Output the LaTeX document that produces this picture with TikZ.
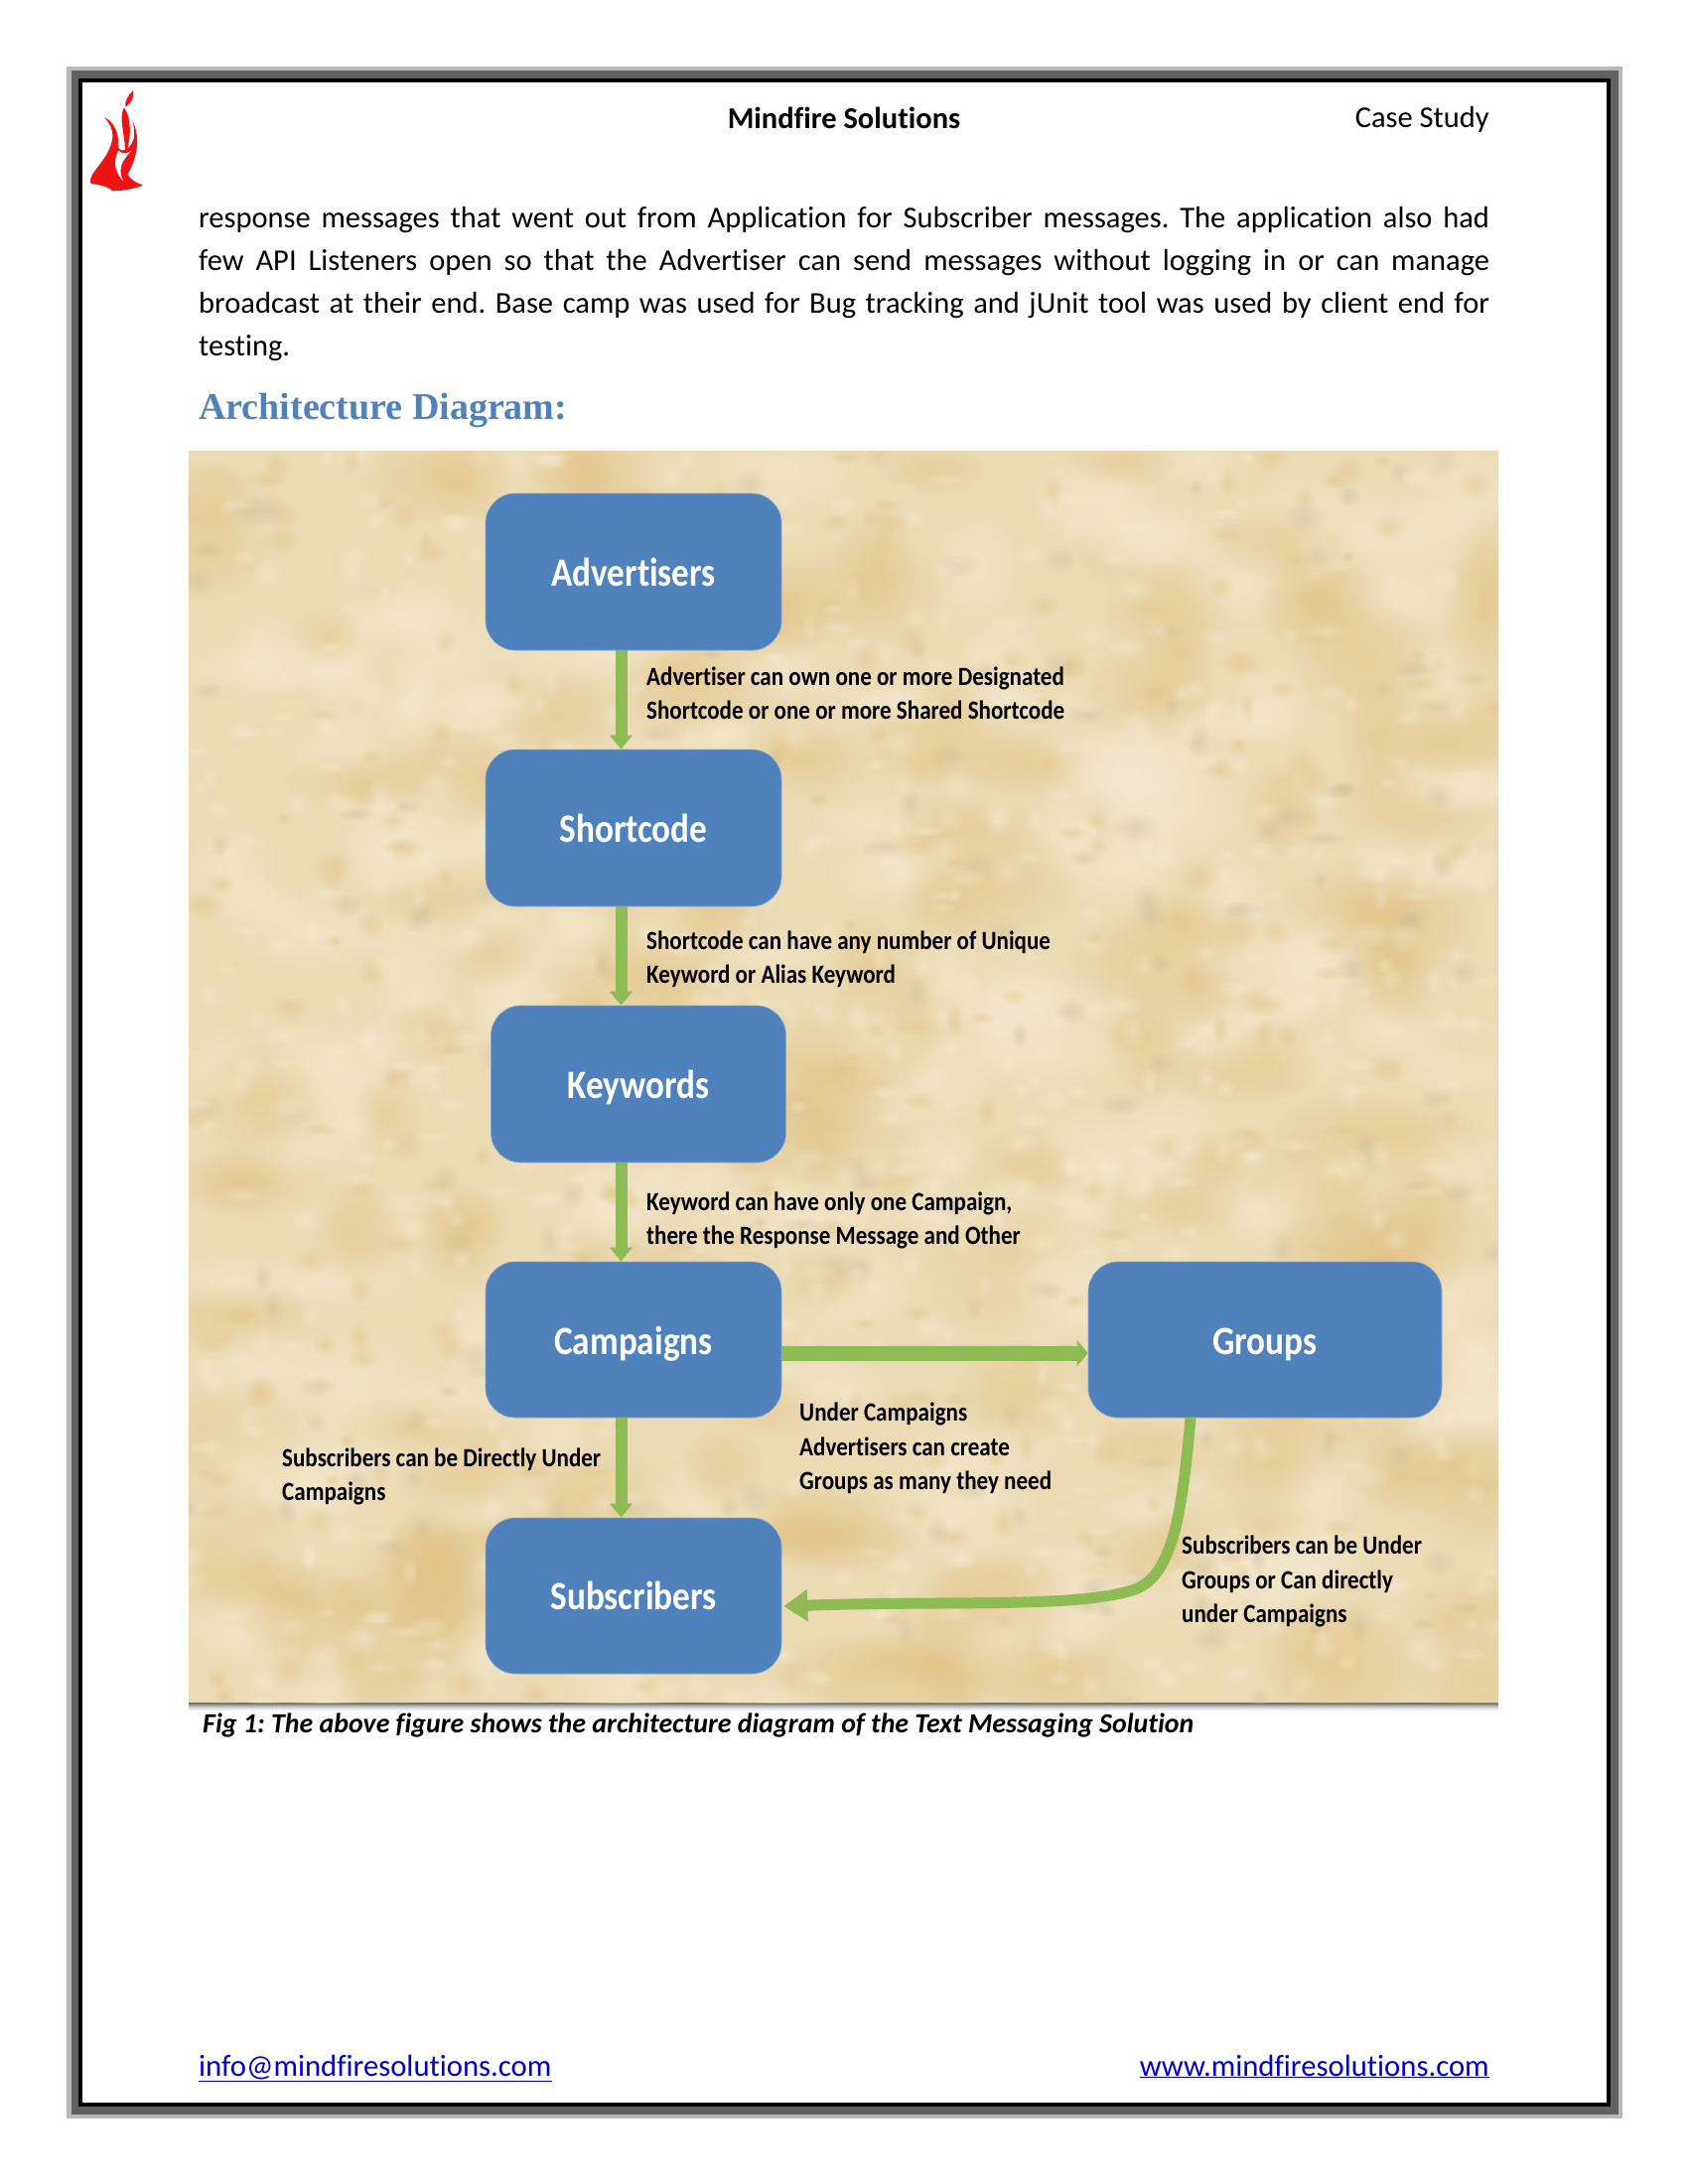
\documentclass[tikz,border=0pt]{standalone}
\usepackage{fontspec}
\setmainfont{Carlito}[Ligatures=NoCommon]
\newfontfamily\headfont{Liberation Serif}
\newfontfamily\lblfont{Carlito}[FakeStretch=0.87,Ligatures=NoCommon]
\usetikzlibrary{arrows.meta,fadings,calc}
\definecolor{boxblue}{HTML}{4F81BD}
\definecolor{flowgreen}{HTML}{8FBB55}
\definecolor{paper}{HTML}{EBDAB4}
\definecolor{paperlight}{HTML}{F5EBD2}
\definecolor{paperdark}{HTML}{E3C284}
\definecolor{papergrey}{HTML}{CDBD9C}
\definecolor{linkblue}{HTML}{0000CC}
\definecolor{flamered}{HTML}{EC1414}
\tikzfading[name=softblob, inner color=transparent!45, outer color=transparent!100]
\newcommand{\lowered}[2]{\raisebox{-#1pt}[0pt][0pt]{#2}}
\tikzset{
  x=1pt,y=-1pt,
  archbox/.style={fill=boxblue,draw=boxblue!70!white,line width=0.6pt,rounded corners=30pt,inner sep=0pt,
    text=white,font=\lblfont\bfseries\fontsize{40.5}{46}\selectfont},
  flow/.style={draw=flowgreen,line width=12pt,-{Triangle[width=22pt,length=14pt]}},
  flowwide/.style={draw=flowgreen,line width=15pt,-{Triangle[width=26pt,length=11pt]}},
  flowcurve/.style={draw=flowgreen,line width=11pt,line join=round,-{Triangle[width=31pt,length=24pt]}},
  lbl/.style={anchor=west,align=left,inner sep=0pt,text=black,font=\lblfont\bfseries\fontsize{26.5}{34.5}\selectfont},
  body/.style={anchor=west,inner sep=0pt,text=black,font=\fontsize{30.5}{43}\selectfont},
  linktext/.style={inner sep=0pt,text=linkblue,font=\fontsize{30.7}{43}\selectfont},
  flame/.style={fill=flamered,draw=none},
}
\begin{document}
\begin{tikzpicture}
\frenchspacing
\useasboundingbox (0,0) rectangle (1700,2200);
\fill[white] (0,0) rectangle (1700,2200);
% page frame
\fill[black!28] (67,67) rectangle (1634,2134);
\fill[black!62] (72,71) rectangle (1630,2130);
\fill[black] (79,79) rectangle (1622,2122);
\fill[white] (83,83) rectangle (1618,2118);
% flame logo
\begin{scope}[shift={(80,85)},x=0.3333pt,y=-0.3333pt]
\fill[flame] (75,100) .. controls (105,112) and (122,150) .. (116,190)
  .. controls (122,205) and (150,205) .. (164,165)
  .. controls (168,145) and (165,125) .. (160,110)
  .. controls (182,150) and (180,215) .. (145,272)
  .. controls (155,290) and (175,298) .. (192,305)
  .. controls (165,316) and (130,322) .. (100,322)
  .. controls (90,312) and (75,305) .. (35,300)
  .. controls (30,290) and (35,280) .. (42,268)
  .. controls (65,235) and (95,205) .. (100,160)
  .. controls (102,135) and (90,115) .. (75,100) -- cycle;
\fill[white] (118,200) .. controls (100,235) and (108,265) .. (132,292)
  .. controls (118,262) and (122,235) .. (158,200)
  .. controls (145,210) and (130,212) .. (118,200) -- cycle;
\fill[flame] (135,70) .. controls (118,95) and (136,150) .. (140,210)
  .. controls (155,170) and (160,105) .. (135,70) -- cycle;
\fill[flame] (163,18) .. controls (148,30) and (136,52) .. (139,68)
  .. controls (155,60) and (167,38) .. (163,18) -- cycle;
\end{scope}
% header
\node[anchor=center,inner sep=0pt,font=\bfseries\fontsize{30.5}{34}\selectfont] (hdr) at (850,118.5) {Mindfire Solutions};
\node[anchor=east,inner sep=0pt,font=\fontsize{30.5}{34}\selectfont] (cs) at (1500,120.5) {Case Study};
% paragraph
\node[body] (p1) at (200,222) {\makebox[1300pt][s]{response messages that went out from Application for Subscriber messages. The application also had}};
\node[body] (p2) at (200,265) {\makebox[1300pt][s]{few API Listeners open so that the Advertiser can send messages without logging in or can manage}};
\node[body] (p3) at (200,308) {\makebox[1300pt][s]{broadcast at their end. Base camp was used for Bug tracking and jUnit tool was used by client end for}};
\node[body] (p4) at (200,351) {testing.};
\node[anchor=west,inner sep=0pt,text=boxblue,font=\headfont\bfseries\fontsize{38}{42}\selectfont] (hd) at (200,414) {Architecture Diagram:};
% panel shadow, bottom edge only
\foreach \i/\o in {7/15,5/25,3/40,1/60}{\fill[black,opacity=\o/100*0.5] (190,1700) rectangle (1509,1716+\i);}
\begin{scope}
\clip (189.5,454) rectangle (1509,1715);
\fill[paper] (189.5,454) rectangle (1509,1715);
\pgfmathsetseed{4217}
\foreach \k in {1,...,340}{
  \pgfmathsetmacro{\px}{189+rnd*1320}
  \pgfmathsetmacro{\py}{454+rnd*1261}
  \pgfmathsetmacro{\ra}{35+rnd*60}
  \pgfmathsetmacro{\rb}{25+rnd*45}
  \pgfmathtruncatemacro{\c}{rnd*100}
  \ifnum\c<50\def\col{paperlight}\else\def\col{paperdark}\fi
  \fill[\col,path fading=softblob] (\px,\py) ellipse [x radius=\ra,y radius=\rb];
}
\foreach \k in {1,...,1100}{
  \pgfmathsetmacro{\px}{189+rnd*1320}
  \pgfmathsetmacro{\py}{454+rnd*1261}
  \pgfmathsetmacro{\ra}{8+rnd*16}
  \pgfmathsetmacro{\rb}{6+rnd*12}
  \pgfmathtruncatemacro{\c}{rnd*100}
  \ifnum\c<60\def\col{paperlight}\else\ifnum\c<85\def\col{paperdark}\else\def\col{papergrey}\fi\fi
  \fill[\col,path fading=softblob,opacity=0.8] (\px,\py) ellipse [x radius=\ra,y radius=\rb];
}
\end{scope}
% boxes
\node[archbox,minimum width=298pt,minimum height=158pt] (adv) at (638,576) {Advertisers};
\node[archbox,minimum width=298pt,minimum height=158pt] (sho) at (638,834) {Shortcode};
\node[archbox,minimum width=297pt,minimum height=158pt] (key) at (643,1092) {\lowered{14}{Keywords}};
\node[archbox,minimum width=298pt,minimum height=157pt] (cam) at (638,1349.5) {\lowered{15}{Campaigns}};
\node[archbox,minimum width=298pt,minimum height=157pt] (sub) at (638,1607.5) {Subscribers};
\node[archbox,minimum width=356pt,minimum height=157pt] (grp) at (1274,1349.5) {\lowered{15}{Groups}};
% connector guides
\coordinate (ax) at (625.5,0);
\coordinate (hy) at (0,1363);
\coordinate (cx) at (1199,0);
\coordinate (cy) at (0,1618);
% connectors
\draw[flow] (adv.south -| ax) -- (sho.north -| ax);
\draw[flow] (sho.south -| ax) -- (key.north -| ax);
\draw[flow] (key.south -| ax) -- (cam.north -| ax);
\draw[flow] (cam.south -| ax) -- (sub.north -| ax);
\draw[flowwide] (cam.east |- hy) -- (grp.west |- hy);
\draw[flowcurve] (grp.south -| cx) .. controls (1190,1530) and (1180,1590) .. (1140,1602) .. controls (1080,1620) and (960,1612) .. ($(sub.east |- cy)+(2,0)$);
% labels
\node[lbl] (l1) at (651,698.5) {Advertiser can own one or more Designated\\Shortcode or one or more Shared Shortcode};
\node[lbl] (l2) at (651,966.5) {Shortcode can have any number of Unique\\Keyword or Alias Keyword};
\node[lbl] (l3) at (651,1229.5) {Keyword can have only one Campaign,\\there the Response Message and Other};
\node[lbl] (l4) at (805,1459) {Under Campaigns\\Advertisers can create\\Groups as many they need};
\node[lbl] (l5) at (284,1487.5) {Subscribers can be Directly Under\\Campaigns};
\node[lbl] (l6) at (1190,1593) {Subscribers can be Under\\Groups or Can directly\\under Campaigns};
% caption
\node[anchor=west,inner sep=0pt,font=\bfseries\itshape\fontsize{27.9}{32}\selectfont] (cap) at (204,1738) {Fig 1: The above figure shows the architecture diagram of the Text Messaging Solution};
% footer
\node[linktext,anchor=base west] (f1) at (200,2091) {\underline{info@mindfiresolutions.com}};
\node[linktext,anchor=base east] (f2) at (1500,2091) {\underline{www.mindfiresolutions.com}};
\end{tikzpicture}
\end{document}
